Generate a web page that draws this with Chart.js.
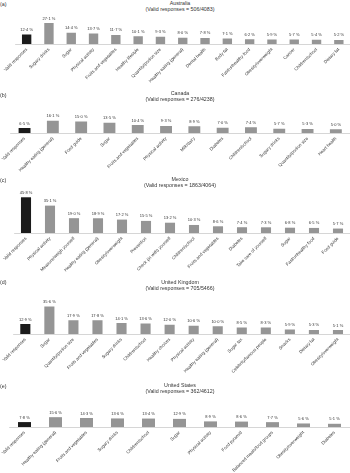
<!DOCTYPE html>
<html><head><meta charset="utf-8">
<script src="https://cdn.jsdelivr.net/npm/chart.js@4.4.1/dist/chart.umd.min.js"></script>
<style>
html,body{margin:0;padding:0;background:#fff}
body{width:350px;height:473px;overflow:hidden;position:relative;font-family:"Liberation Sans",Arial,sans-serif;color:#333}
canvas{position:absolute;left:0}
.lab{position:absolute;left:0;font-size:5.3px;line-height:6px;white-space:nowrap}
.ttl{position:absolute;left:100px;width:160px;text-align:center;font-size:5.3px;line-height:6.3px;white-space:nowrap}
</style></head><body>
<script>
// ---------- DATA ----------
const auCategories = ['Valid responses','Sugary drinks','Sugar','Physical activity','Fruits and vegetables','Healthy lifestyle','Quantity/portion size','Healthy eating (general)','Dental health','Body fat','Fast/unhealthy food','Obesity/overweight','Cancer','Children/school','Dietary fat'];
const auValues = [12.4,27.1,14.4,13.7,11.7,10.1,9.3,8.0,7.8,7.1,6.2,5.9,5.7,5.4,5.2];

const caCategories = ['Valid responses','Healthy eating (general)','Food guide','Sugar','Fruits and vegetables','Physical activity','Milk/dairy','Diabetes','Children/school','Sugary drinks','Quantity/portion size','Heart health'];
const caValues = [6.5,16.1,15.0,13.5,10.4,9.3,8.9,7.0,7.4,5.7,5.3,5.0];

const mxCategories = ['Valid responses','Physical activity','Measure/weigh yourself','Healthy eating (general)','Obesity/overweight','Prevention','Check (in with) yourself','Children/school','Fruits and vegetables','Diabetes','Take care of yourself','Sugar','Fast/unhealthy food','Food guide'];
const mxValues = [45.8,35.1,19.0,18.9,17.2,15.5,13.2,10.3,8.6,7.4,7.3,6.8,6.5,5.7];

const ukCategories = ['Valid responses','Sugar','Quantity/portion size','Fruits and vegetables','Sugary drinks','Children/school','Healthy choices','Physical activity','Healthy eating (general)','Sugar tax','Celebrity/famous people','Snacks','Dietary fat','Obesity/overweight'];
const ukValues = [12.9,35.6,17.9,17.8,14.1,13.6,12.0,10.6,10.0,8.5,8.3,5.9,5.3,5.1];

const usCategories = ['Valid responses','Healthy eating (general)','Fruits and vegetables','Sugary drinks','Children/school','Sugar','Physical activity','Food pyramid','Balanced meals/food groups','Obesity/overweight','Diabetes'];
const usValues = [7.8,15.6,14.3,13.6,13.4,12.9,8.9,8.6,7.7,5.6,5.1];

const panelLetters = ['(a)','(b)','(c)','(d)','(e)'];
const panelTitles = ['Australia','Canada','Mexico','United Kingdom','United States'];
const panelSubtitles = ['(Valid responses = 506/4083)','(Valid responses = 276/4238)','(Valid responses = 1863/4064)','(Valid responses = 705/5466)','(Valid responses = 362/4612)'];

// ---------- LAYOUT ----------
const panels = [
  {cats:auCategories, vals:auValues, baseline:44, pxPer:0.775, left:15.5, titleY:3.3, letterY:4},
  {cats:caCategories, vals:caValues, baseline:133, pxPer:0.765, left:10.4, titleY:93.3, letterY:94.5},
  {cats:mxCategories, vals:mxValues, baseline:233, pxPer:0.78, left:14, titleY:178.8, letterY:179.5},
  {cats:ukCategories, vals:ukValues, baseline:334, pxPer:0.775, left:13.3, titleY:282, letterY:282},
  {cats:usCategories, vals:usValues, baseline:427, pxPer:0.63, left:9, titleY:385, letterY:386}
];

const FONT = '"Liberation Sans", Arial, sans-serif';
const TEXT = '#333';
const fmt = v => v.toFixed(1).replace('.', '\u00B7') + ' %';

const valueLabels = {
  id: 'valueLabels',
  afterDatasetsDraw(chart) {
    const ctx = chart.ctx;
    const meta = chart.getDatasetMeta(0);
    const data = chart.data.datasets[0].data;
    ctx.save();
    ctx.font = '4px ' + FONT;
    ctx.fillStyle = TEXT;
    ctx.textAlign = 'center';
    ctx.textBaseline = 'bottom';
    meta.data.forEach((bar, i) => ctx.fillText(fmt(data[i]), bar.x, bar.y - 2.6));
    ctx.restore();
  }
};

const PLOT_H = 50, AXIS_H = 52;

panels.forEach((p, k) => {
  const lt = document.createElement('div');
  lt.className = 'lab';
  lt.style.top = (p.letterY - 3) + 'px';
  lt.textContent = panelLetters[k];
  document.body.appendChild(lt);

  const tt = document.createElement('div');
  tt.className = 'ttl';
  tt.style.top = (p.titleY - 3.15) + 'px';
  tt.innerHTML = panelTitles[k] + '<br>' + panelSubtitles[k];
  document.body.appendChild(tt);

  const cv = document.createElement('canvas');
  cv.width = 350; cv.height = PLOT_H + AXIS_H;
  cv.style.width = '350px'; cv.style.height = (PLOT_H + AXIS_H) + 'px';
  cv.style.top = (p.baseline - PLOT_H) + 'px';
  document.body.appendChild(cv);

  new Chart(cv.getContext('2d'), {
    type: 'bar',
    data: {
      labels: p.cats,
      datasets: [{
        data: p.vals,
        backgroundColor: p.vals.map((v, i) => i === 0 ? '#1b1b1b' : '#959595'),
        barPercentage: 0.42,
        categoryPercentage: 1
      }]
    },
    options: {
      responsive: false,
      animation: false,
      devicePixelRatio: 1,
      layout: {padding: {left: p.left, right: 0, top: 0, bottom: 0}},
      plugins: {legend: {display: false}, tooltip: {enabled: false}, title: {display: false}},
      scales: {
        y: {display: false, min: 0, max: PLOT_H / p.pxPer},
        x: {
          grid: {display: false, drawTicks: false},
          border: {display: true, color: '#c4c4c4', width: 0.7, dash: [1.5, 1.5]},
          ticks: {font: {size: 4.4, family: FONT}, color: TEXT, maxRotation: 45, minRotation: 45, autoSkip: false, padding: 3},
          afterFit(scale) { scale.paddingLeft = 0; scale.paddingRight = 0; scale.height = AXIS_H; }
        }
      }
    },
    plugins: [valueLabels]
  });
});
</script>
</body></html>
